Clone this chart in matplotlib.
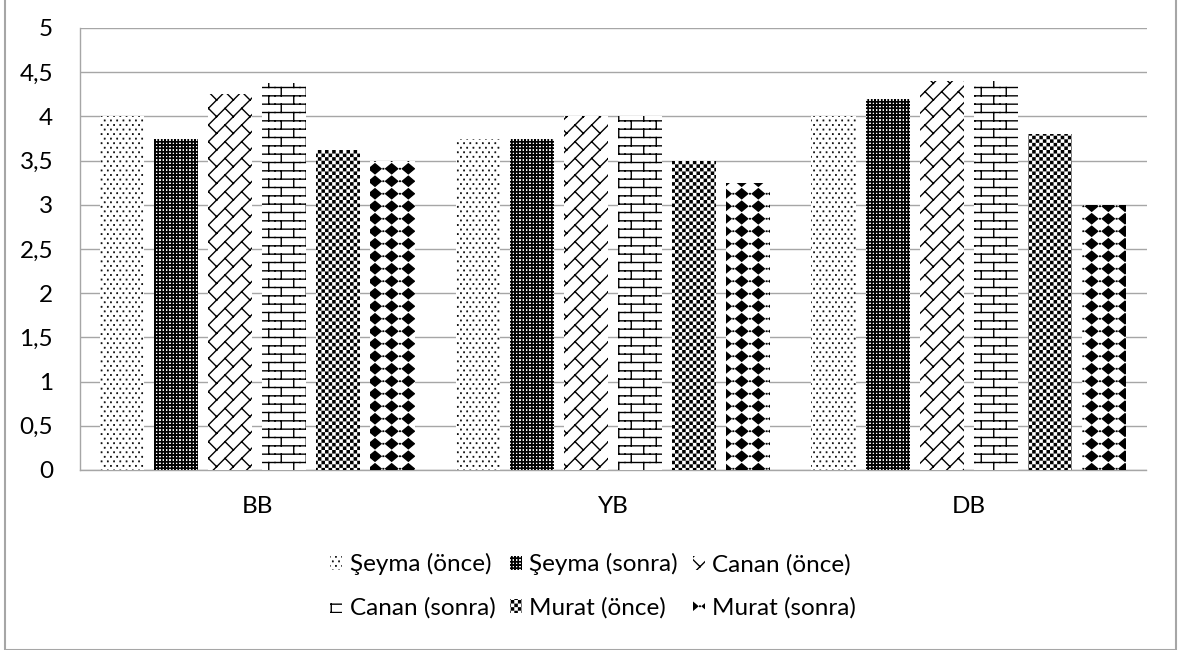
import warnings
warnings.filterwarnings("ignore")
import numpy as np
import matplotlib
matplotlib.use("Agg")
import matplotlib.pyplot as plt
import matplotlib.hatch as mhatch
from matplotlib.path import Path
from matplotlib.patches import Rectangle, Patch
from matplotlib.ticker import FixedLocator, FuncFormatter

# ---------------- data ----------------
categories = ["BB", "YB", "DB"]
series_names = ["Şeyma (önce)", "Şeyma (sonra)", "Canan (önce)",
                "Canan (sonra)", "Murat (önce)", "Murat (sonra)"]
seyma_once = [4.0, 3.75, 4.0]
seyma_sonra = [3.75, 3.75, 4.2]
canan_once = [4.25, 4.0, 4.4]
canan_sonra = [4.375, 4.0, 4.4]
murat_once = [3.625, 3.5, 3.8]
murat_sonra = [3.5, 3.25, 3.0]
y_ticks = [0, 0.5, 1, 1.5, 2, 2.5, 3, 3.5, 4, 4.5, 5]

series_values = [seyma_once, seyma_sonra, canan_once,
                 canan_sonra, murat_once, murat_sonra]

# ---------------- custom hatch patterns ----------------
class TileHatch(mhatch.HatchPatternBase):
    char = "?"
    nx = 1
    ny = 1
    lines = []      # list of ((x0,y0),(x1,y1)) in tile coords
    polys = []      # list of closed polygons in tile coords

    def __init__(self, hatch, density):
        self.on = bool(hatch) and (self.char in hatch)
        if self.on:
            verts, codes = [], []
            for i in range(-1, self.nx + 1):
                for j in range(-1, self.ny + 1):
                    for (x0, y0), (x1, y1) in self.lines:
                        verts += [((x0 + i) / self.nx, (y0 + j) / self.ny),
                                  ((x1 + i) / self.nx, (y1 + j) / self.ny)]
                        codes += [Path.MOVETO, Path.LINETO]
                    for poly in self.polys:
                        pts = [((x + i) / self.nx, (y + j) / self.ny) for x, y in poly]
                        verts += pts + [pts[0]]
                        codes += [Path.MOVETO] + [Path.LINETO] * (len(pts) - 1) + [Path.CLOSEPOLY]
            self._v = np.array(verts, float)
            self._c = np.array(codes, dtype=Path.code_type)
            self.num_vertices = len(self._v)
        else:
            self.num_vertices = 0

    def set_vertices_and_codes(self, vertices, codes):
        vertices[:] = self._v
        codes[:] = self._c


def sq(cx, cy, h):
    return [(cx - h, cy - h), (cx + h, cy - h), (cx + h, cy + h), (cx - h, cy + h)]


class DotHatch(TileHatch):          # Şeyma (önce)
    char = "d"
    nx, ny = 16, 11
    polys = [sq(0.25, 0.25, 0.025), sq(0.75, 0.75, 0.025)]


class GridHatch(TileHatch):         # Şeyma (sonra)
    char = "g"
    nx, ny = 30, 30
    lines = [((0.0, 0.5), (1.0, 0.5)), ((0.5, 0.0), (0.5, 1.0))]


class DiagBrickHatch(TileHatch):    # Canan (önce)
    char = "w"
    nx, ny = 6, 6
    lines = [((0.0, 0.0), (1.0, 1.0)), ((0.5, 0.5), (1.0, 0.0))]


class BrickHatch(TileHatch):        # Canan (sonra)
    char = "b"
    nx, ny = 4, 6
    lines = [((0.0, 0.25), (1.0, 0.25)), ((0.0, 0.75), (1.0, 0.75)),
             ((0.25, 0.25), (0.25, 0.75)),
             ((0.75, 0.75), (0.75, 1.25))]


class CheckHatch(TileHatch):        # Murat (önce)
    char = "c"
    nx, ny = 14, 14
    polys = [sq(0.25, 0.25, 0.15), sq(0.75, 0.75, 0.15)]


class DiamondHatch(TileHatch):      # Murat (sonra)
    char = "m"
    nx, ny = 6, 8
    polys = [[(0.5, 0.5 - 0.40), (0.5 + 0.36, 0.5), (0.5, 0.5 + 0.40), (0.5 - 0.36, 0.5)],
             sq(0.0, 0.5, 0.015)]


for cls in (DotHatch, GridHatch, DiagBrickHatch, BrickHatch, CheckHatch, DiamondHatch):
    mhatch._hatch_types.append(cls)

hatches = ["d", "g", "w", "b", "c", "m"]

# ---------------- figure ----------------
plt.rcParams["font.family"] = ["Lato", "DejaVu Sans"]
plt.rcParams["hatch.linewidth"] = 1.0

W, H = 1180, 650
fig = plt.figure(figsize=(W / 100, H / 100), dpi=100)
ax = fig.add_axes([79.5 / W, 1 - 470 / H, (1146.5 - 79.5) / W, (470 - 28) / H])

x = np.arange(len(categories))
pitch = 0.152
width = 0.124
for k, (vals, name, hatch) in enumerate(zip(series_values, series_names, hatches)):
    ax.bar(x + (k - 2.5) * pitch, vals, width, facecolor="white",
           edgecolor="black", linewidth=0, hatch=hatch, label=name, zorder=3)

FS = 17.5
ax.set_xlim(-0.5, len(categories) - 0.5)
ax.set_ylim(0, 5)
ax.yaxis.set_major_locator(FixedLocator(y_ticks))
ax.yaxis.set_major_formatter(FuncFormatter(lambda v, p: f"{v:g}".replace(".", ",")))
ax.set_xticks(x)
ax.set_xticklabels(categories)
ax.grid(axis="y", color="#a6a6a6", linewidth=1.0, zorder=0)
ax.tick_params(axis="both", length=0, labelsize=FS, colors="black")
ax.tick_params(axis="y", pad=19)
ax.tick_params(axis="x", pad=19)
for s in ("top", "right"):
    ax.spines[s].set_visible(False)
for s in ("left", "bottom"):
    ax.spines[s].set_color("#a6a6a6")
    ax.spines[s].set_linewidth(1.0)

handles = [Patch(facecolor="white", edgecolor="black", linewidth=0, hatch=h) for h in hatches]
order = [0, 3, 1, 4, 2, 5]
leg = fig.legend([handles[i] for i in order], [series_names[i] for i in order],
                 loc="center", bbox_to_anchor=(593 / W, 1 - 586 / H), ncol=3,
                 frameon=False, fontsize=FS, handlelength=0.5, handleheight=0.5,
                 handletextpad=0.3, columnspacing=0.6, labelspacing=0.9)

fig.patches.append(Rectangle((4.5 / W, 0), (1176 - 4.5) / W, 1 - 645 / H + 1 - 1 / H,
                             transform=fig.transFigure, fill=False,
                             edgecolor="#a6a6a6", linewidth=1.5))

fig.savefig("out.png", dpi=100, facecolor="white")
